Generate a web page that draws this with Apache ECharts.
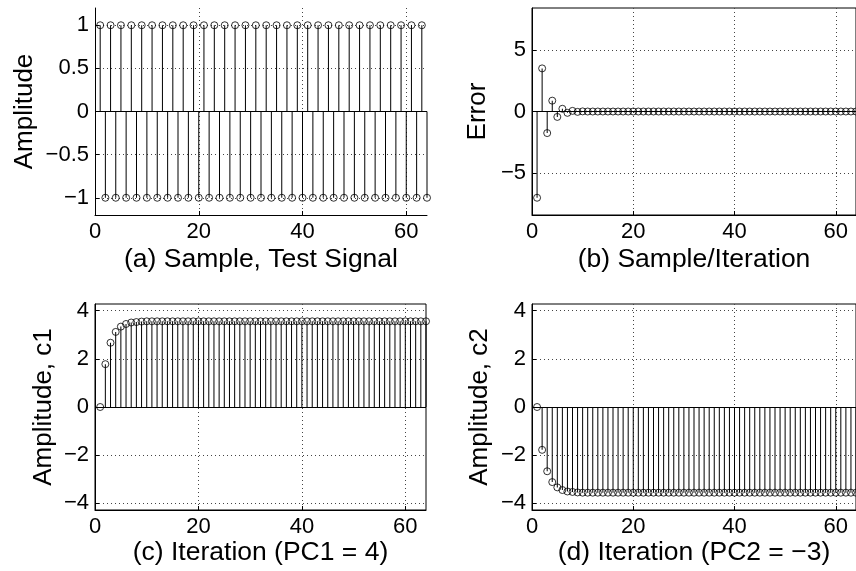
<!DOCTYPE html>
<html>
<head>
<meta charset="utf-8">
<script src="https://cdn.jsdelivr.net/npm/echarts@6/dist/echarts.min.js"></script>
<style>html,body{margin:0;padding:0;background:#fff;}#c{width:856px;height:571px;}</style>
</head>
<body>
<div id="c"></div>
<script>
// ---- data ----
const samples = [1,2,3,4,5,6,7,8,9,10,11,12,13,14,15,16,17,18,19,20,21,22,23,24,25,26,27,28,29,30,31,32,
  33,34,35,36,37,38,39,40,41,42,43,44,45,46,47,48,49,50,51,52,53,54,55,56,57,58,59,60,61,62,63,64];
const testSignal = [1,-1,1,-1,1,-1,1,-1,1,-1,1,-1,1,-1,1,-1,1,-1,1,-1,1,-1,1,-1,1,-1,1,-1,1,-1,1,-1,
  1,-1,1,-1,1,-1,1,-1,1,-1,1,-1,1,-1,1,-1,1,-1,1,-1,1,-1,1,-1,1,-1,1,-1,1,-1,1,-1];
const errorValues = [-7,3.5,-1.75,0.88,-0.44,0.22,-0.11,0.05,-0.03,0.01,0,0,0,0,0,0,0,0,0,0,0,0,0,0,0,0,0,0,0,0,0,0,
  0,0,0,0,0,0,0,0,0,0,0,0,0,0,0,0,0,0,0,0,0,0,0,0,0,0,0,0,0,0,0,0];
const c1Values = [0,1.78,2.67,3.12,3.34,3.45,3.51,3.53,3.55,3.56,3.56,3.56,3.56,3.56,3.56,3.56,3.56,3.56,3.56,3.56,
  3.56,3.56,3.56,3.56,3.56,3.56,3.56,3.56,3.56,3.56,3.56,3.56,3.56,3.56,3.56,3.56,3.56,3.56,3.56,3.56,
  3.56,3.56,3.56,3.56,3.56,3.56,3.56,3.56,3.56,3.56,3.56,3.56,3.56,3.56,3.56,3.56,3.56,3.56,3.56,3.56,
  3.56,3.56,3.56,3.56];
const c2Values = [0,-1.78,-2.67,-3.12,-3.34,-3.45,-3.51,-3.53,-3.55,-3.56,-3.56,-3.56,-3.56,-3.56,-3.56,-3.56,-3.56,-3.56,-3.56,-3.56,
  -3.56,-3.56,-3.56,-3.56,-3.56,-3.56,-3.56,-3.56,-3.56,-3.56,-3.56,-3.56,-3.56,-3.56,-3.56,-3.56,-3.56,-3.56,-3.56,-3.56,
  -3.56,-3.56,-3.56,-3.56,-3.56,-3.56,-3.56,-3.56,-3.56,-3.56,-3.56,-3.56,-3.56,-3.56,-3.56,-3.56,-3.56,-3.56,-3.56,-3.56,
  -3.56,-3.56,-3.56,-3.56];
const xTicks = [0,20,40,60];
const yTicksA = [-1,-0.5,0,0.5,1];
const yTicksB = [-5,0,5];
const yTicksCD = [-4,-2,0,2,4];
const xNames = ['(a) Sample, Test Signal','(b) Sample/Iteration','(c) Iteration (PC1 = 4)','(d) Iteration (PC2 = \u22123)'];
const yNames = ['Amplitude','Error','Amplitude, c1','Amplitude, c2'];

// ---- chart ----
const FONT = '"Liberation Sans", Arial, Helvetica, sans-serif';
const fmt = v => (v < 0 ? '\u2212' + String(-v) : String(v));
const panels = [
  {vals: testSignal, yMin: -1.2, yMax: 1.2, yTicks: yTicksA, yGap: 57, xGap: 31, box: false},
  {vals: errorValues, yMin: -8.4, yMax: 8.4, yTicks: yTicksB, yGap: 41, xGap: 31, box: true},
  {vals: c1Values, yMin: -4.28, yMax: 4.28, yTicks: yTicksCD, yGap: 38, xGap: 22, box: true},
  {vals: c2Values, yMin: -4.28, yMax: 4.28, yTicks: yTicksCD, yGap: 39, xGap: 22, box: true}
];
const grids = [
  {left: 95, top: 8, width: 332, height: 207},
  {left: 532, top: 8, width: 332, height: 207},
  {left: 95, top: 304, width: 331, height: 206},
  {left: 532, top: 304, width: 332, height: 206}
];
const splitStyle = {show: true, lineStyle: {color: '#444', type: [1, 3], width: 1}};
const option = {
  animation: false,
  backgroundColor: '#fff',
  textStyle: {fontFamily: FONT, color: '#000'},
  grid: grids.map((g, i) => Object.assign({}, g, {
    show: panels[i].box, borderColor: '#000', borderWidth: 1, backgroundColor: 'transparent', containLabel: false
  })),
  xAxis: panels.map((p, i) => ({
    type: 'value', gridIndex: i, min: 0, max: 64, interval: 20,
    name: xNames[i], nameLocation: 'middle', nameGap: p.xGap,
    nameTextStyle: {fontSize: 26.5, color: '#000', fontFamily: FONT},
    axisLine: {show: true, onZero: false, lineStyle: {color: '#000', width: 1}},
    axisTick: {show: true, inside: true, length: 4, customValues: xTicks, lineStyle: {color: '#000'}},
    axisLabel: {show: true, customValues: xTicks, fontSize: 22, color: '#000', margin: 6, fontFamily: FONT, formatter: fmt},
    splitLine: splitStyle
  })),
  yAxis: panels.map((p, i) => ({
    type: 'value', gridIndex: i, min: p.yMin, max: p.yMax,
    name: yNames[i], nameLocation: 'middle', nameGap: p.yGap,
    nameTextStyle: {fontSize: 26, color: '#000', fontFamily: FONT},
    axisLine: {show: true, onZero: false, lineStyle: {color: '#000', width: 1}},
    axisTick: {show: true, inside: true, length: 4, customValues: p.yTicks, lineStyle: {color: '#000'}},
    axisLabel: {show: true, customValues: p.yTicks, fontSize: 22, color: '#000', margin: 6, fontFamily: FONT, formatter: fmt},
    splitLine: splitStyle
  })),
  series: []
};
panels.forEach((p, i) => {
  const pts = samples.map((x, k) => [x, p.vals[k]]);
  option.series.push({
    type: 'bar', xAxisIndex: i, yAxisIndex: i, data: pts, barWidth: 1,
    itemStyle: {color: '#000'}, silent: true,
    markLine: {silent: true, symbol: 'none', label: {show: false},
      lineStyle: {color: '#000', type: 'solid', width: 1}, data: [{yAxis: 0}]}
  });
  option.series.push({
    type: 'scatter', xAxisIndex: i, yAxisIndex: i, data: pts, symbol: 'circle', symbolSize: 7,
    itemStyle: {color: 'rgba(0,0,0,0)', borderColor: '#000', borderWidth: 1}, silent: true, z: 3
  });
});
const chart = echarts.init(document.getElementById('c'), null, {renderer: 'canvas'});
chart.setOption(option);
</script>
</body>
</html>
